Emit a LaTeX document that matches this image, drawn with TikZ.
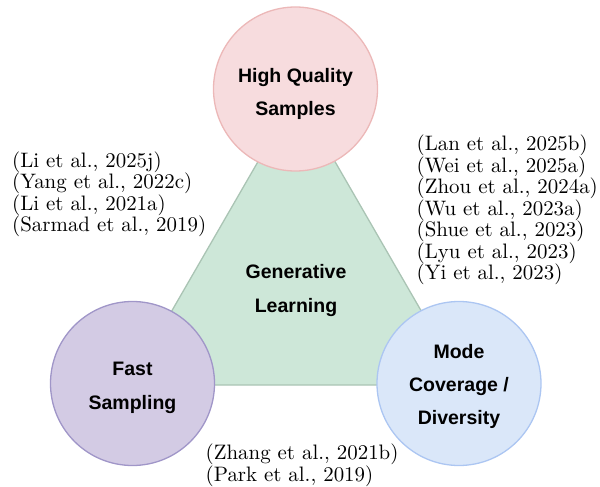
\documentclass[tikz,border=0pt]{standalone}
\usepackage{fontspec}
\newfontfamily\labfont{Liberation Sans}
\newfontfamily\citefont{lmroman10-regular}[Extension=.otf]
\definecolor{trifill}{RGB}{205,231,216}
\definecolor{tridraw}{RGB}{170,196,180}
\definecolor{redfill}{RGB}{247,220,222}
\definecolor{reddraw}{RGB}{236,184,184}
\definecolor{purfill}{RGB}{211,203,228}
\definecolor{purdraw}{RGB}{160,150,200}
\definecolor{blufill}{RGB}{218,231,249}
\definecolor{bludraw}{RGB}{172,198,242}
\tikzset{
  bubble/.style={circle, minimum size=164pt, inner sep=0pt, line width=1.3pt},
  lbl/.style={font=\labfont\bfseries\fontsize{19.5}{23}\selectfont, inner sep=0pt, anchor=base},
  cite/.style={font=\citefont\fontsize{20.9}{21.4}\selectfont, inner sep=0pt, anchor=base west}
}
\begin{document}
\begin{tikzpicture}[x=1pt,y=-1pt]
\useasboundingbox (0,0) rectangle (600,487);
% triangle
\coordinate (tA) at (296.5,95);
\coordinate (tB) at (129,385);
\coordinate (tC) at (464,385);
\draw[fill=trifill, draw=tridraw, line width=1.3pt, line join=miter] (tB) -- (tC) -- (tA) -- cycle;
\node[lbl] (gl1) at (296,278.5) {Generative};
\node[lbl] (gl2) at (296,312.5) {Learning};
% circles
\node[bubble, fill=redfill, draw=reddraw] (hq) at (295.5,89) {};
\node[lbl] (hq1) at (295.5,82) {High Quality};
\node[lbl] (hq2) at (295.5,115) {Samples};
\node[bubble, fill=purfill, draw=purdraw] (fs) at (132.5,383.5) {};
\node[lbl] (fs1) at (132.5,375.5) {Fast};
\node[lbl] (fs2) at (132.5,409) {Sampling};
\node[bubble, fill=blufill, draw=bludraw] (md) at (459,383.5) {};
\node[lbl] (md1) at (459,358) {Mode};
\node[lbl] (md2) at (459,391) {Coverage /};
\node[lbl] (md3) at (459,424) {Diversity};
% citations left
\node[cite] (l1) at (12,167) {(Li et al., 2025j)};
\node[cite] (l2) at (12,188.5) {(Yang et al., 2022c)};
\node[cite] (l3) at (12,210) {(Li et al., 2021a)};
\node[cite] (l4) at (12,231.5) {(Sarmad et al., 2019)};
% citations right
\node[cite] (r1) at (416.5,150.5) {(Lan et al., 2025b)};
\node[cite] (r2) at (416.5,172) {(Wei et al., 2025a)};
\node[cite] (r3) at (416.5,193.5) {(Zhou et al., 2024a)};
\node[cite] (r4) at (416.5,215) {(Wu et al., 2023a)};
\node[cite] (r5) at (416.5,236.5) {(Shue et al., 2023)};
\node[cite] (r6) at (416.5,258) {(Lyu et al., 2023)};
\node[cite] (r7) at (416.5,279.5) {(Yi et al., 2023)};
% citations bottom
\node[cite] (b1) at (205.5,459.5) {(Zhang et al., 2021b)};
\node[cite] (b2) at (205.5,481) {(Park et al., 2019)};
\end{tikzpicture}
\end{document}
